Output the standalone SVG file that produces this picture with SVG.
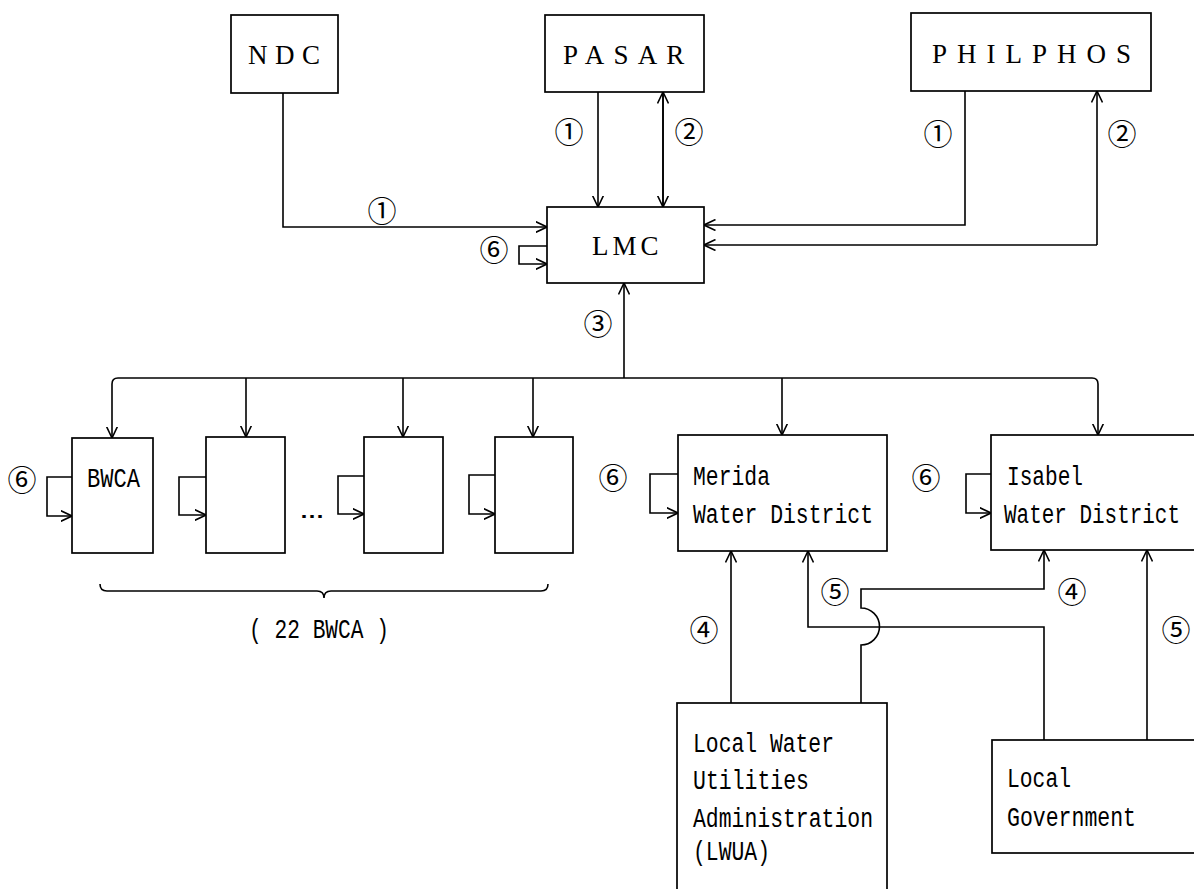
<svg xmlns="http://www.w3.org/2000/svg" width="1194" height="889" viewBox="0 0 1194 889">
<style>
.box{fill:#fff;stroke:#000;stroke-width:1.7}
.ln{fill:none;stroke:#000;stroke-width:1.6}
.arr{marker-end:url(#ah)}
.t{font-family:"Liberation Serif",serif;font-size:27px;fill:#000}
.m{font-family:"Liberation Mono",monospace;font-size:27px;fill:#000}
.c{font-family:"Noto Sans CJK JP","DejaVu Sans",sans-serif;font-size:29px;fill:#000;text-anchor:middle;dominant-baseline:central}
</style>
<defs>
<marker id="ah" viewBox="0 0 12 12" refX="11.5" refY="6" markerWidth="12" markerHeight="12" markerUnits="userSpaceOnUse" orient="auto">
<path d="M0,0.5 L11.5,6 L0,11.5" fill="none" stroke="#000" stroke-width="1.6"/>
</marker>
</defs>
<rect width="1194" height="889" fill="#fff"/>

<g id="connectors">
<path class="ln arr" d="M283,93 V227 H547"/>
<path class="ln arr" d="M598,92 V207"/>
<path class="ln arr" d="M663,207 V92"/>
<path class="ln arr" d="M663,92 V207"/>
<path class="ln arr" d="M965,91 V225 H704"/>
<path class="ln arr" d="M1097,245 V91"/>
<path class="ln arr" d="M1097,245 H704"/>
<path class="ln arr" d="M547,246 H519 V264 H547"/>
<path class="ln arr" d="M624,378 V283"/>
<path class="ln" d="M118,378 H1092"/>
<path class="ln arr" d="M112,384 Q112,378 118,378 M112,384 V438"/>
<path class="ln arr" d="M246,378 V437"/>
<path class="ln arr" d="M403,378 V437"/>
<path class="ln arr" d="M533,378 V437"/>
<path class="ln arr" d="M782,378 V435"/>
<path class="ln arr" d="M1092,378 Q1098,378 1098,384 V435"/>
<path class="ln arr" d="M72,477 H47 V516 H72"/>
<path class="ln arr" d="M206,477 H179 V515 H206"/>
<path class="ln arr" d="M364,476 H338 V514 H364"/>
<path class="ln arr" d="M495,475 H469 V514 H495"/>
<path class="ln arr" d="M678,474 H650 V513 H678"/>
<path class="ln arr" d="M991,474 H966 V513 H991"/>
<path class="ln arr" d="M731,703 V551"/>
<path class="ln arr" d="M1044,740 V627 H808 V551"/>
<path class="ln arr" d="M861,703 V645 A18.5,18.5 0 0 0 861,608 V589 H1044 V550"/>
<path class="ln arr" d="M1147,740 V550"/>
<path class="ln" d="M100,584 Q100,591 107,591 H317 Q324,591 324,598 Q324,591 331,591 H541 Q548,591 548,584"/>
</g>

<g id="ndc"><rect class="box" x="231" y="15" width="107" height="78"/><text class="t" x="248" y="64" letter-spacing="7.5">NDC</text></g>
<g id="pasar"><rect class="box" x="545" y="15" width="159" height="77"/><text class="t" x="563" y="64" letter-spacing="9.2">PASAR</text></g>
<g id="philphos"><rect class="box" x="911" y="13" width="240" height="78"/><text class="t" x="932" y="63" letter-spacing="10">PHILPHOS</text></g>
<g id="lmc"><rect class="box" x="547" y="207" width="157" height="76"/><text class="t" x="592" y="255" letter-spacing="4">LMC</text></g>

<g id="bwca1"><rect class="box" x="72" y="438" width="81" height="115"/><text class="m" x="87" y="487" textLength="53" lengthAdjust="spacingAndGlyphs">BWCA</text></g>
<g id="bwca2"><rect class="box" x="206" y="437" width="79" height="116"/></g>
<g id="bwca3"><rect class="box" x="364" y="437" width="79" height="116"/></g>
<g id="bwca4"><rect class="box" x="495" y="437" width="78" height="116"/></g>
<g id="merida"><rect class="box" x="678" y="435" width="209" height="116"/><text class="m" x="693" y="485" textLength="77" lengthAdjust="spacingAndGlyphs">Merida</text><text class="m" x="693" y="523" textLength="180" lengthAdjust="spacingAndGlyphs">Water District</text></g>
<g id="isabel"><rect class="box" x="991" y="435" width="230" height="115"/><text class="m" x="1007" y="485" textLength="76" lengthAdjust="spacingAndGlyphs">Isabel</text><text class="m" x="1004" y="523" textLength="176" lengthAdjust="spacingAndGlyphs">Water District</text></g>
<g id="lwua"><rect class="box" x="677" y="703" width="210" height="220"/>
<text class="m" x="693" y="752" textLength="141" lengthAdjust="spacingAndGlyphs">Local Water</text>
<text class="m" x="693" y="789" textLength="116" lengthAdjust="spacingAndGlyphs">Utilities</text>
<text class="m" x="693" y="827" textLength="180" lengthAdjust="spacingAndGlyphs">Administration</text>
<text class="m" x="693" y="860" textLength="77" lengthAdjust="spacingAndGlyphs">(LWUA)</text></g>
<g id="localgov"><rect class="box" x="992" y="740" width="230" height="113"/>
<text class="m" x="1007" y="787" textLength="64" lengthAdjust="spacingAndGlyphs">Local</text>
<text class="m" x="1007" y="826" textLength="129" lengthAdjust="spacingAndGlyphs">Government</text></g>

<g id="labels">
<text class="m" x="300" y="518" textLength="24" lengthAdjust="spacingAndGlyphs">…</text>
<text class="m" x="249" y="638" textLength="140" lengthAdjust="spacingAndGlyphs">( 22 BWCA )</text>
<text class="c" x="382" y="209">①</text>
<text class="c" x="569" y="130">①</text>
<text class="c" x="689" y="130">②</text>
<text class="c" x="938" y="132">①</text>
<text class="c" x="1122" y="132">②</text>
<text class="c" x="494" y="248">⑥</text>
<text class="c" x="598" y="322">③</text>
<text class="c" x="22" y="478">⑥</text>
<text class="c" x="613" y="476">⑥</text>
<text class="c" x="926" y="476">⑥</text>
<text class="c" x="704" y="628">④</text>
<text class="c" x="835" y="590">⑤</text>
<text class="c" x="1072" y="590">④</text>
<text class="c" x="1176" y="628">⑤</text>
</g>
</svg>
